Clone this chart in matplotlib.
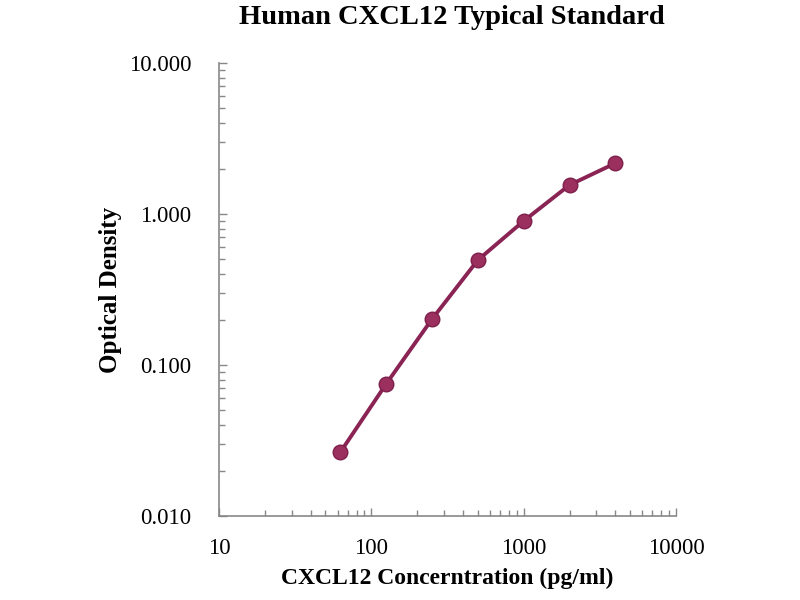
import matplotlib
matplotlib.use("Agg")
import matplotlib.pyplot as plt
from matplotlib.ticker import FixedLocator, LogLocator, NullFormatter, FixedFormatter

conc = [62.5, 125, 250, 500, 1000, 2000, 4000]
od = [0.0264, 0.0748, 0.201, 0.495, 0.899, 1.556, 2.17]
x_ticks = [10, 100, 1000, 10000]
x_labels = ["10", "100", "1000", "10000"]
y_ticks = [0.01, 0.1, 1, 10]
y_labels = ["0.010", "0.100", "1.000", "10.000"]

plt.rcParams['font.family'] = ['Liberation Serif', 'DejaVu Serif']

fig = plt.figure(figsize=(8, 6), dpi=100)
ax = fig.add_axes([219/800, 1 - 516/600, (676-219)/800, (516-63)/600])

ax.plot(conc, od, color='#8a2454', linewidth=2.8, marker='o', markersize=10.5,
        markerfacecolor='#9b2f5e', markeredgecolor='#7e1f4c', markeredgewidth=1)

ax.set_xscale('log')
ax.set_yscale('log')
ax.set_xlim(10, 10000)
ax.set_ylim(0.01, 10)

ax.xaxis.set_major_locator(FixedLocator(x_ticks))
ax.xaxis.set_major_formatter(FixedFormatter(x_labels))
ax.xaxis.set_minor_locator(LogLocator(base=10, subs=range(2, 10)))
ax.xaxis.set_minor_formatter(NullFormatter())
ax.yaxis.set_major_locator(FixedLocator(y_ticks))
ax.yaxis.set_major_formatter(FixedFormatter(y_labels))
ax.yaxis.set_minor_locator(LogLocator(base=10, subs=range(2, 10)))
ax.yaxis.set_minor_formatter(NullFormatter())

for s in ['top', 'right']:
    ax.spines[s].set_visible(False)
for s in ['left', 'bottom']:
    ax.spines[s].set_color('#888888')
    ax.spines[s].set_linewidth(1.2)

ax.tick_params(which='both', direction='in', color='#888888', width=1)
ax.tick_params(which='major', length=6, labelsize=16.5)
ax.tick_params(which='minor', length=4)
ax.tick_params(axis='x', which='major', pad=16)
ax.tick_params(axis='y', which='major', pad=20)

ax.set_xlabel('CXCL12 Concerntration (pg/ml)', fontsize=17, fontweight='bold', labelpad=6)
ax.set_ylabel('Optical Density', fontsize=18, fontweight='bold', labelpad=5)
fig.text(452/800, 1 - 18/600, 'Human CXCL12 Typical Standard', ha='center', va='center',
         fontsize=20.5, fontweight='bold')

fig.savefig('out.png', dpi=100)
